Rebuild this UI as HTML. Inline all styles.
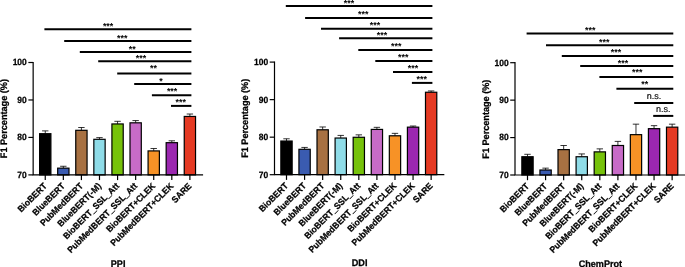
<!DOCTYPE html>
<html><head><meta charset="utf-8"><title>F1 Percentage comparison</title>
<style>
html,body{margin:0;padding:0;background:#fff;}
svg{display:block;}
text{font-family:"Liberation Sans", Arial, Helvetica, sans-serif;fill:#000;text-rendering:geometricPrecision;}
.b{font-weight:bold;stroke:#000;stroke-width:0.25px;}
.s{font-weight:bold;text-rendering:auto;}
</style></head>
<body>
<svg width="685" height="267" viewBox="0 0 685 267">
<rect width="685" height="267" fill="#fff"/>
<g>
<path d="M45.25 133.69V130.88M42.05 130.88H48.45" stroke="#000" stroke-width="0.8" fill="none"/>
<rect x="39.60" y="133.69" width="11.30" height="41.21" fill="#000000" stroke="#000" stroke-width="1.2"/>
<path d="M45.25 174.90V180.10" stroke="#000" stroke-width="1.2"/>
<text class="b" font-size="9" text-anchor="end" transform="translate(47.45 186.60) rotate(-45) scale(0.95 1)">BioBERT</text>
<path d="M63.33 168.16V166.28M60.13 166.28H66.53" stroke="#000" stroke-width="0.8" fill="none"/>
<rect x="57.68" y="168.16" width="11.30" height="6.74" fill="#3a5bb0" stroke="#000" stroke-width="1.2"/>
<path d="M63.33 174.90V180.10" stroke="#000" stroke-width="1.2"/>
<text class="b" font-size="9" text-anchor="end" transform="translate(65.53 186.60) rotate(-45) scale(0.95 1)">BlueBERT</text>
<path d="M81.41 130.31V127.50M78.21 127.50H84.61" stroke="#000" stroke-width="0.8" fill="none"/>
<rect x="75.76" y="130.31" width="11.30" height="44.59" fill="#a87142" stroke="#000" stroke-width="1.2"/>
<path d="M81.41 174.90V180.10" stroke="#000" stroke-width="1.2"/>
<text class="b" font-size="9" text-anchor="end" transform="translate(83.61 186.60) rotate(-45) scale(0.95 1)">PubMedBERT</text>
<path d="M99.49 139.31V137.62M96.29 137.62H102.69" stroke="#000" stroke-width="0.8" fill="none"/>
<rect x="93.84" y="139.31" width="11.30" height="35.59" fill="#8fdce8" stroke="#000" stroke-width="1.2"/>
<path d="M99.49 174.90V180.10" stroke="#000" stroke-width="1.2"/>
<text class="b" font-size="9" text-anchor="end" transform="translate(101.69 186.60) rotate(-45) scale(0.95 1)">BlueBERT(-M)</text>
<path d="M117.57 123.95V121.32M114.37 121.32H120.77" stroke="#000" stroke-width="0.8" fill="none"/>
<rect x="111.92" y="123.95" width="11.30" height="50.95" fill="#76c20a" stroke="#000" stroke-width="1.2"/>
<path d="M117.57 174.90V180.10" stroke="#000" stroke-width="1.2"/>
<text class="b" font-size="9" text-anchor="end" transform="translate(119.77 186.60) rotate(-45) scale(0.95 1)">BioBERT_SSL_Att</text>
<path d="M135.65 122.82V120.57M132.45 120.57H138.85" stroke="#000" stroke-width="0.8" fill="none"/>
<rect x="130.00" y="122.82" width="11.30" height="52.08" fill="#c76bc7" stroke="#000" stroke-width="1.2"/>
<path d="M135.65 174.90V180.10" stroke="#000" stroke-width="1.2"/>
<text class="b" font-size="9" text-anchor="end" transform="translate(137.85 186.60) rotate(-45) scale(0.95 1)">PubMedBERT_SSL_Att</text>
<path d="M153.73 150.92V148.49M150.53 148.49H156.93" stroke="#000" stroke-width="0.8" fill="none"/>
<rect x="148.08" y="150.92" width="11.30" height="23.98" fill="#f79226" stroke="#000" stroke-width="1.2"/>
<path d="M153.73 174.90V180.10" stroke="#000" stroke-width="1.2"/>
<text class="b" font-size="9" text-anchor="end" transform="translate(155.93 186.60) rotate(-45) scale(0.95 1)">BioBERT+CLEK</text>
<path d="M171.81 142.68V140.81M168.61 140.81H175.01" stroke="#000" stroke-width="0.8" fill="none"/>
<rect x="166.16" y="142.68" width="11.30" height="32.22" fill="#9b27b0" stroke="#000" stroke-width="1.2"/>
<path d="M171.81 174.90V180.10" stroke="#000" stroke-width="1.2"/>
<text class="b" font-size="9" text-anchor="end" transform="translate(174.01 186.60) rotate(-45) scale(0.95 1)">PubMedBERT+CLEK</text>
<path d="M189.89 116.45V114.02M186.69 114.02H193.09" stroke="#000" stroke-width="0.8" fill="none"/>
<rect x="184.24" y="116.45" width="11.30" height="58.45" fill="#e53a23" stroke="#000" stroke-width="1.2"/>
<path d="M189.89 174.90V180.10" stroke="#000" stroke-width="1.2"/>
<text class="b" font-size="9" text-anchor="end" transform="translate(192.09 186.60) rotate(-45) scale(0.95 1)">SARE</text>
<path d="M33.15 61.90V174.90H203.09" stroke="#000" stroke-width="1.2" fill="none"/>
<path d="M28.35 174.90H33.15" stroke="#000" stroke-width="1.2"/>
<text class="b" font-size="9.1" text-anchor="end" transform="translate(26.75 177.80) scale(0.93 1)">70</text>
<path d="M28.35 137.43H33.15" stroke="#000" stroke-width="1.2"/>
<text class="b" font-size="9.1" text-anchor="end" transform="translate(26.75 140.33) scale(0.93 1)">80</text>
<path d="M28.35 99.97H33.15" stroke="#000" stroke-width="1.2"/>
<text class="b" font-size="9.1" text-anchor="end" transform="translate(26.75 102.87) scale(0.93 1)">90</text>
<path d="M28.35 62.50H33.15" stroke="#000" stroke-width="1.2"/>
<text class="b" font-size="9.1" text-anchor="end" transform="translate(26.75 65.40) scale(0.93 1)">100</text>
<text class="b" font-size="9.15" text-anchor="middle" transform="translate(6.85 118.60) rotate(-90) scale(1 1.04)">F1 Percentage (%)</text>
<path d="M44.40 29.20H191.40" stroke="#000" stroke-width="2"/>
<text class="s" font-size="8.9" text-anchor="middle" x="108.10" y="29.00">***</text>
<path d="M64.20 41.00H191.40" stroke="#000" stroke-width="2"/>
<text class="s" font-size="8.9" text-anchor="middle" x="122.30" y="41.00">***</text>
<path d="M79.80 52.00H191.40" stroke="#000" stroke-width="2"/>
<text class="s" font-size="8.9" text-anchor="middle" x="132.30" y="52.00">**</text>
<path d="M98.20 61.20H191.40" stroke="#000" stroke-width="2"/>
<text class="s" font-size="8.9" text-anchor="middle" x="141.00" y="61.00">***</text>
<path d="M117.20 73.50H191.40" stroke="#000" stroke-width="2"/>
<text class="s" font-size="8.9" text-anchor="middle" x="153.40" y="71.00">**</text>
<path d="M134.20 84.00H191.40" stroke="#000" stroke-width="2"/>
<text class="s" font-size="8.9" text-anchor="middle" x="161.10" y="84.00">*</text>
<path d="M151.90 95.20H191.40" stroke="#000" stroke-width="2"/>
<text class="s" font-size="8.9" text-anchor="middle" x="172.10" y="94.00">***</text>
<path d="M171.00 105.90H191.40" stroke="#000" stroke-width="2"/>
<text class="s" font-size="8.9" text-anchor="middle" x="180.70" y="105.00">***</text>
<text class="b" font-size="9.1" text-anchor="middle" transform="translate(118.10 266.70) scale(1 1.04)">PPI</text>
</g>
<g>
<path d="M286.50 141.04V138.79M283.30 138.79H289.70" stroke="#000" stroke-width="0.8" fill="none"/>
<rect x="280.85" y="141.04" width="11.30" height="33.66" fill="#000000" stroke="#000" stroke-width="1.2"/>
<path d="M286.50 174.70V179.90" stroke="#000" stroke-width="1.2"/>
<text class="b" font-size="9" text-anchor="end" transform="translate(288.70 186.40) rotate(-45) scale(0.95 1)">BioBERT</text>
<path d="M304.58 149.30V147.43M301.38 147.43H307.78" stroke="#000" stroke-width="0.8" fill="none"/>
<rect x="298.93" y="149.30" width="11.30" height="25.40" fill="#3a5bb0" stroke="#000" stroke-width="1.2"/>
<path d="M304.58 174.70V179.90" stroke="#000" stroke-width="1.2"/>
<text class="b" font-size="9" text-anchor="end" transform="translate(306.78 186.40) rotate(-45) scale(0.95 1)">BlueBERT</text>
<path d="M322.66 129.78V126.97M319.46 126.97H325.86" stroke="#000" stroke-width="0.8" fill="none"/>
<rect x="317.01" y="129.78" width="11.30" height="44.92" fill="#a87142" stroke="#000" stroke-width="1.2"/>
<path d="M322.66 174.70V179.90" stroke="#000" stroke-width="1.2"/>
<text class="b" font-size="9" text-anchor="end" transform="translate(324.86 186.40) rotate(-45) scale(0.95 1)">PubMedBERT</text>
<path d="M340.74 138.04V135.41M337.54 135.41H343.94" stroke="#000" stroke-width="0.8" fill="none"/>
<rect x="335.09" y="138.04" width="11.30" height="36.66" fill="#8fdce8" stroke="#000" stroke-width="1.2"/>
<path d="M340.74 174.70V179.90" stroke="#000" stroke-width="1.2"/>
<text class="b" font-size="9" text-anchor="end" transform="translate(342.94 186.40) rotate(-45) scale(0.95 1)">BlueBERT(-M)</text>
<path d="M358.82 137.29V134.85M355.62 134.85H362.02" stroke="#000" stroke-width="0.8" fill="none"/>
<rect x="353.17" y="137.29" width="11.30" height="37.41" fill="#76c20a" stroke="#000" stroke-width="1.2"/>
<path d="M358.82 174.70V179.90" stroke="#000" stroke-width="1.2"/>
<text class="b" font-size="9" text-anchor="end" transform="translate(361.02 186.40) rotate(-45) scale(0.95 1)">BioBERT_SSL_Att</text>
<path d="M376.90 129.41V127.34M373.70 127.34H380.10" stroke="#000" stroke-width="0.8" fill="none"/>
<rect x="371.25" y="129.41" width="11.30" height="45.29" fill="#c76bc7" stroke="#000" stroke-width="1.2"/>
<path d="M376.90 174.70V179.90" stroke="#000" stroke-width="1.2"/>
<text class="b" font-size="9" text-anchor="end" transform="translate(379.10 186.40) rotate(-45) scale(0.95 1)">PubMedBERT_SSL_Att</text>
<path d="M394.98 135.79V133.35M391.78 133.35H398.18" stroke="#000" stroke-width="0.8" fill="none"/>
<rect x="389.33" y="135.79" width="11.30" height="38.91" fill="#f79226" stroke="#000" stroke-width="1.2"/>
<path d="M394.98 174.70V179.90" stroke="#000" stroke-width="1.2"/>
<text class="b" font-size="9" text-anchor="end" transform="translate(397.18 186.40) rotate(-45) scale(0.95 1)">BioBERT+CLEK</text>
<path d="M413.06 127.16V126.03M409.86 126.03H416.26" stroke="#000" stroke-width="0.8" fill="none"/>
<rect x="407.41" y="127.16" width="11.30" height="47.54" fill="#9b27b0" stroke="#000" stroke-width="1.2"/>
<path d="M413.06 174.70V179.90" stroke="#000" stroke-width="1.2"/>
<text class="b" font-size="9" text-anchor="end" transform="translate(415.26 186.40) rotate(-45) scale(0.95 1)">PubMedBERT+CLEK</text>
<path d="M431.14 92.25V90.94M427.94 90.94H434.34" stroke="#000" stroke-width="0.8" fill="none"/>
<rect x="425.49" y="92.25" width="11.30" height="82.45" fill="#e53a23" stroke="#000" stroke-width="1.2"/>
<path d="M431.14 174.70V179.90" stroke="#000" stroke-width="1.2"/>
<text class="b" font-size="9" text-anchor="end" transform="translate(433.34 186.40) rotate(-45) scale(0.95 1)">SARE</text>
<path d="M274.50 61.50V174.70H444.34" stroke="#000" stroke-width="1.2" fill="none"/>
<path d="M269.70 174.70H274.50" stroke="#000" stroke-width="1.2"/>
<text class="b" font-size="9.1" text-anchor="end" transform="translate(268.10 177.60) scale(0.93 1)">70</text>
<path d="M269.70 137.17H274.50" stroke="#000" stroke-width="1.2"/>
<text class="b" font-size="9.1" text-anchor="end" transform="translate(268.10 140.07) scale(0.93 1)">80</text>
<path d="M269.70 99.63H274.50" stroke="#000" stroke-width="1.2"/>
<text class="b" font-size="9.1" text-anchor="end" transform="translate(268.10 102.53) scale(0.93 1)">90</text>
<path d="M269.70 62.10H274.50" stroke="#000" stroke-width="1.2"/>
<text class="b" font-size="9.1" text-anchor="end" transform="translate(268.10 65.00) scale(0.93 1)">100</text>
<text class="b" font-size="9.15" text-anchor="middle" transform="translate(248.20 118.30) rotate(-90) scale(1 1.04)">F1 Percentage (%)</text>
<path d="M285.80 6.10H432.40" stroke="#000" stroke-width="2"/>
<text class="s" font-size="8.9" text-anchor="middle" x="349.00" y="6.00">***</text>
<path d="M305.10 17.90H432.40" stroke="#000" stroke-width="2"/>
<text class="s" font-size="8.9" text-anchor="middle" x="363.30" y="17.00">***</text>
<path d="M321.00 28.80H432.40" stroke="#000" stroke-width="2"/>
<text class="s" font-size="8.9" text-anchor="middle" x="375.00" y="28.00">***</text>
<path d="M339.10 38.30H432.40" stroke="#000" stroke-width="2"/>
<text class="s" font-size="8.9" text-anchor="middle" x="382.00" y="38.00">***</text>
<path d="M358.30 50.10H432.40" stroke="#000" stroke-width="2"/>
<text class="s" font-size="8.9" text-anchor="middle" x="396.20" y="49.00">***</text>
<path d="M375.30 60.90H432.40" stroke="#000" stroke-width="2"/>
<text class="s" font-size="8.9" text-anchor="middle" x="403.20" y="60.00">***</text>
<path d="M393.00 72.10H432.40" stroke="#000" stroke-width="2"/>
<text class="s" font-size="8.9" text-anchor="middle" x="413.00" y="71.00">***</text>
<path d="M411.90 82.90H432.40" stroke="#000" stroke-width="2"/>
<text class="s" font-size="8.9" text-anchor="middle" x="421.70" y="82.00">***</text>
<text class="b" font-size="9.1" text-anchor="middle" transform="translate(359.60 265.70) scale(1 1.04)">DDI</text>
</g>
<g>
<path d="M527.50 156.73V154.30M524.30 154.30H530.70" stroke="#000" stroke-width="0.8" fill="none"/>
<rect x="521.85" y="156.73" width="11.30" height="18.27" fill="#000000" stroke="#000" stroke-width="1.2"/>
<path d="M527.50 175.00V180.20" stroke="#000" stroke-width="1.2"/>
<text class="b" font-size="9" text-anchor="end" transform="translate(529.70 186.70) rotate(-45) scale(0.95 1)">BioBERT</text>
<path d="M545.58 170.02V168.15M542.38 168.15H548.78" stroke="#000" stroke-width="0.8" fill="none"/>
<rect x="539.93" y="170.02" width="11.30" height="4.98" fill="#3a5bb0" stroke="#000" stroke-width="1.2"/>
<path d="M545.58 175.00V180.20" stroke="#000" stroke-width="1.2"/>
<text class="b" font-size="9" text-anchor="end" transform="translate(547.78 186.70) rotate(-45) scale(0.95 1)">BlueBERT</text>
<path d="M563.66 149.62V145.50M560.46 145.50H566.86" stroke="#000" stroke-width="0.8" fill="none"/>
<rect x="558.01" y="149.62" width="11.30" height="25.38" fill="#a87142" stroke="#000" stroke-width="1.2"/>
<path d="M563.66 175.00V180.20" stroke="#000" stroke-width="1.2"/>
<text class="b" font-size="9" text-anchor="end" transform="translate(565.86 186.70) rotate(-45) scale(0.95 1)">PubMedBERT</text>
<path d="M581.74 156.73V153.93M578.54 153.93H584.94" stroke="#000" stroke-width="0.8" fill="none"/>
<rect x="576.09" y="156.73" width="11.30" height="18.27" fill="#8fdce8" stroke="#000" stroke-width="1.2"/>
<path d="M581.74 175.00V180.20" stroke="#000" stroke-width="1.2"/>
<text class="b" font-size="9" text-anchor="end" transform="translate(583.94 186.70) rotate(-45) scale(0.95 1)">BlueBERT(-M)</text>
<path d="M599.82 151.87V148.87M596.62 148.87H603.02" stroke="#000" stroke-width="0.8" fill="none"/>
<rect x="594.17" y="151.87" width="11.30" height="23.13" fill="#76c20a" stroke="#000" stroke-width="1.2"/>
<path d="M599.82 175.00V180.20" stroke="#000" stroke-width="1.2"/>
<text class="b" font-size="9" text-anchor="end" transform="translate(602.02 186.70) rotate(-45) scale(0.95 1)">BioBERT_SSL_Att</text>
<path d="M617.90 145.50V141.39M614.70 141.39H621.10" stroke="#000" stroke-width="0.8" fill="none"/>
<rect x="612.25" y="145.50" width="11.30" height="29.50" fill="#c76bc7" stroke="#000" stroke-width="1.2"/>
<path d="M617.90 175.00V180.20" stroke="#000" stroke-width="1.2"/>
<text class="b" font-size="9" text-anchor="end" transform="translate(620.10 186.70) rotate(-45) scale(0.95 1)">PubMedBERT_SSL_Att</text>
<path d="M635.98 134.65V124.17M632.78 124.17H639.18" stroke="#000" stroke-width="0.8" fill="none"/>
<rect x="630.33" y="134.65" width="11.30" height="40.35" fill="#f79226" stroke="#000" stroke-width="1.2"/>
<path d="M635.98 175.00V180.20" stroke="#000" stroke-width="1.2"/>
<text class="b" font-size="9" text-anchor="end" transform="translate(638.18 186.70) rotate(-45) scale(0.95 1)">BioBERT+CLEK</text>
<path d="M654.06 128.66V125.66M650.86 125.66H657.26" stroke="#000" stroke-width="0.8" fill="none"/>
<rect x="648.41" y="128.66" width="11.30" height="46.34" fill="#9b27b0" stroke="#000" stroke-width="1.2"/>
<path d="M654.06 175.00V180.20" stroke="#000" stroke-width="1.2"/>
<text class="b" font-size="9" text-anchor="end" transform="translate(656.26 186.70) rotate(-45) scale(0.95 1)">PubMedBERT+CLEK</text>
<path d="M672.14 127.16V124.17M668.94 124.17H675.34" stroke="#000" stroke-width="0.8" fill="none"/>
<rect x="666.49" y="127.16" width="11.30" height="47.84" fill="#e53a23" stroke="#000" stroke-width="1.2"/>
<path d="M672.14 175.00V180.20" stroke="#000" stroke-width="1.2"/>
<text class="b" font-size="9" text-anchor="end" transform="translate(674.34 186.70) rotate(-45) scale(0.95 1)">SARE</text>
<path d="M515.00 62.10V175.00H685.34" stroke="#000" stroke-width="1.2" fill="none"/>
<path d="M510.20 175.00H515.00" stroke="#000" stroke-width="1.2"/>
<text class="b" font-size="9.1" text-anchor="end" transform="translate(508.60 177.90) scale(0.93 1)">70</text>
<path d="M510.20 137.57H515.00" stroke="#000" stroke-width="1.2"/>
<text class="b" font-size="9.1" text-anchor="end" transform="translate(508.60 140.47) scale(0.93 1)">80</text>
<path d="M510.20 100.13H515.00" stroke="#000" stroke-width="1.2"/>
<text class="b" font-size="9.1" text-anchor="end" transform="translate(508.60 103.03) scale(0.93 1)">90</text>
<path d="M510.20 62.70H515.00" stroke="#000" stroke-width="1.2"/>
<text class="b" font-size="9.1" text-anchor="end" transform="translate(508.60 65.60) scale(0.93 1)">100</text>
<text class="b" font-size="9.15" text-anchor="middle" transform="translate(489.20 119.15) rotate(-90) scale(1 1.04)">F1 Percentage (%)</text>
<path d="M526.60 33.50H673.30" stroke="#000" stroke-width="2"/>
<text class="s" font-size="8.9" text-anchor="middle" x="590.20" y="33.00">***</text>
<path d="M546.00 45.20H673.30" stroke="#000" stroke-width="2"/>
<text class="s" font-size="8.9" text-anchor="middle" x="604.30" y="45.00">***</text>
<path d="M561.80 56.10H673.30" stroke="#000" stroke-width="2"/>
<text class="s" font-size="8.9" text-anchor="middle" x="616.00" y="55.00">***</text>
<path d="M580.20 66.00H673.30" stroke="#000" stroke-width="2"/>
<text class="s" font-size="8.9" text-anchor="middle" x="623.00" y="66.00">***</text>
<path d="M599.40 77.00H673.30" stroke="#000" stroke-width="2"/>
<text class="s" font-size="8.9" text-anchor="middle" x="637.20" y="75.00">***</text>
<path d="M616.40 88.80H673.30" stroke="#000" stroke-width="2"/>
<text class="s" font-size="8.9" text-anchor="middle" x="644.80" y="87.00">**</text>
<path d="M634.20 102.90H673.30" stroke="#000" stroke-width="2"/>
<text font-size="9" stroke="#000" stroke-width="0.15" text-anchor="middle" x="654.10" y="99.30">n.s.</text>
<path d="M653.20 115.90H673.30" stroke="#000" stroke-width="2"/>
<text font-size="9" stroke="#000" stroke-width="0.15" text-anchor="middle" x="663.20" y="112.40">n.s.</text>
<text class="b" font-size="9.1" text-anchor="middle" transform="translate(600.40 266.70) scale(1 1.04)">ChemProt</text>
</g>
</svg>
</body></html>
